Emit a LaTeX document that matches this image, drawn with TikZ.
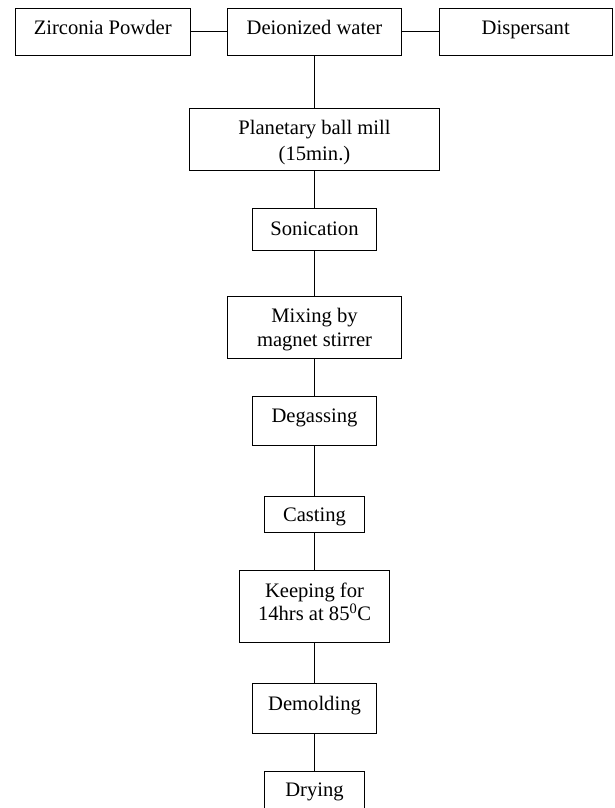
\documentclass[tikz,border=0pt]{standalone}
\usepackage{fontspec}
\setmainfont{Liberation Serif}
\newcommand\bt[2]{\raisebox{-#1pt}[0pt][0pt]{#2}}
\newcommand\twol[3]{\vtop{\baselineskip=#1pt\lineskiplimit=-10pt\halign{\hfil##\hfil\cr #2\cr #3\cr}}}
\begin{document}
\begin{tikzpicture}[x=1pt,y=-1pt,
  box/.style={draw=black, line width=1pt, inner sep=0pt,
    font=\fontsize{20.6}{26.8}\selectfont},
  conn/.style={draw=black, line width=1pt}]
\path[use as bounding box, clip] (0,0) rectangle (614,808);
\node[box, minimum width=175pt, minimum height=46.4pt] (zp) at (102.7,32) {\bt{3}{Zirconia Powder}};
\node[box, minimum width=174.6pt, minimum height=46.4pt] (dw) at (314.5,32) {\bt{3}{Deionized water}};
\node[box, minimum width=173pt, minimum height=46.4pt] (ds) at (525.7,32) {\bt{3}{Dispersant}};
\node[box, minimum width=249.4pt, minimum height=61.4pt] (pb) at (314.5,139.5) {\bt{-5.5}{\twol{26}{Planetary ball mill}{(15min.)}}};
\node[box, minimum width=124.6pt, minimum height=42pt] (so) at (314.5,229.5) {\bt{5.5}{Sonication}};
\node[box, minimum width=174.3pt, minimum height=61.7pt] (mx) at (314.5,327.3) {\bt{-5}{\twol{24.4}{Mixing by}{magnet stirrer}}};
\node[box, minimum width=124.6pt, minimum height=49pt] (dg) at (314.5,421) {\bt{1.7}{Degassing}};
\node[box, minimum width=99.4pt, minimum height=36.6pt] (ca) at (314.5,514.5) {\bt{7.2}{Casting}};
\node[box, minimum width=149.4pt, minimum height=72pt] (kp) at (314.5,606.8) {\bt{-9.5}{\twol{23.4}{Keeping for}{14hrs at 85\textsuperscript{0}C}}};
\node[box, minimum width=124.6pt, minimum height=49.7pt] (dm) at (314.5,708.3) {\bt{1.7}{Demolding}};
\node[box, minimum width=99.4pt, minimum height=49pt] (dr) at (314.5,795.7) {\bt{0.3}{Drying}};
\draw[conn] (zp.east) -- (dw.west);
\draw[conn] (dw.east) -- (ds.west);
\draw[conn] (dw.south) -- (pb.north);
\draw[conn] (pb.south) -- (so.north);
\draw[conn] (so.south) -- (mx.north);
\draw[conn] (mx.south) -- (dg.north);
\draw[conn] (dg.south) -- (ca.north);
\draw[conn] (ca.south) -- (kp.north);
\draw[conn] (kp.south) -- (dm.north);
\draw[conn] (dm.south) -- (dr.north);
\end{tikzpicture}
\end{document}
